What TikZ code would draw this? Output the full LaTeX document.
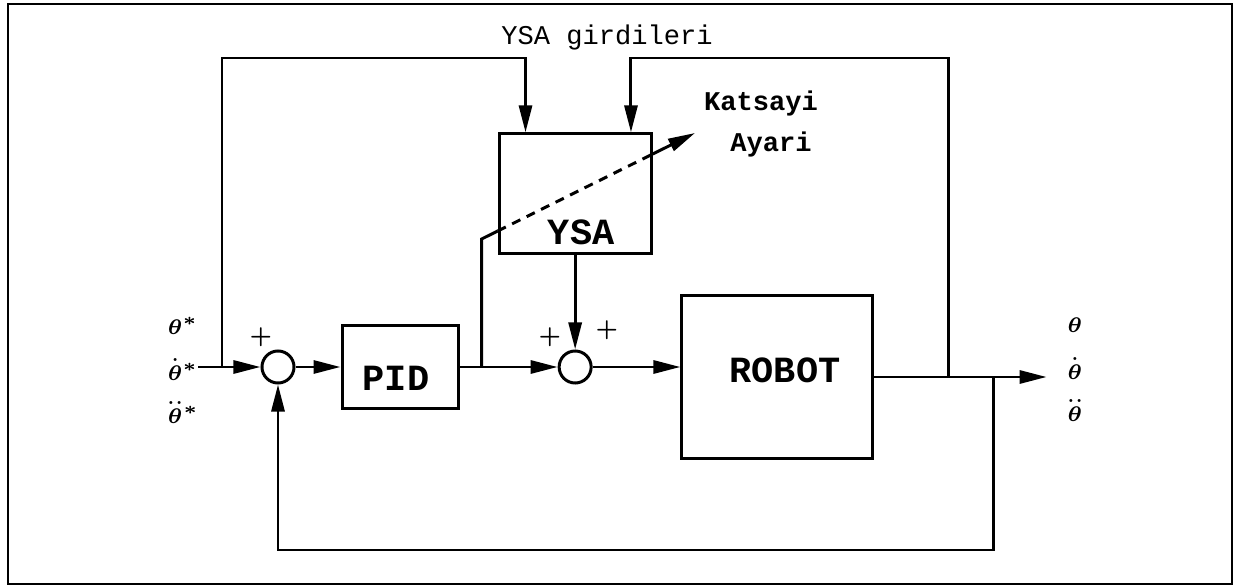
\documentclass[tikz,border=0pt]{standalone}
\usepackage{fontspec}
\setmonofont{Liberation Mono}
\usepackage{amsmath}
\usetikzlibrary{arrows.meta, positioning, calc}

\begin{document}
\begin{tikzpicture}[
    x=0.01cm, y=-0.01cm, >={Triangle[length=0.27cm,width=0.13cm]},
    line width=0.85pt,
    block/.style={draw, minimum height=0.82cm, inner sep=0pt},
    blocktxt/.style={font=\fontsize{10.5}{12}\selectfont\ttfamily\bfseries,
                     inner sep=0pt},
    sumnode/.style={draw, circle, minimum size=0.32cm, inner sep=0pt},
    sig/.style={font=\fontsize{6.5}{7}\selectfont\boldmath, inner sep=0pt},
    plus/.style={font=\fontsize{6}{6}\selectfont\bfseries, inner sep=0pt},
    note/.style={font=\fontsize{7.7}{9}\selectfont\ttfamily\bfseries,
                 inner sep=0pt}
  ]

  \useasboundingbox (0,0) rectangle (1239,588);
  \draw[line width=0.6pt] (8,4) rectangle (1232,584);

  % Summing junctions and blocks
  \node[sumnode] (sum1) at (278,367) {};
  \node[block, minimum width=1.16cm, right=0.45cm of sum1] (pid) {};
  \node[sumnode, right=0.98cm of pid] (sum2) {};
  \node[block, minimum width=1.52cm, minimum height=1.2cm,
        above=0.94cm of sum2] (ysa) {};
  \node[block, minimum width=1.9cm, minimum height=1.62cm]
    (robot) at (777,377) {};

  \node[blocktxt] (pidtxt) at ($(pid)+(-4,11)$) {PID};
  \node[blocktxt] (ysatxt) at ($(ysa)+(6,38)$) {YSA};
  \node[blocktxt] (robottxt) at ($(robot)+(8,-7)$) {ROBOT};

  % Texts
  \node[font=\fontsize{7.7}{9}\selectfont\ttfamily, inner sep=0pt]
    (inputs) at (607,37) {YSA girdileri};
  \node[note] (katsayi) at (761,104) {Katsayi};
  \node[note] (ayari) at (771,145) {Ayari};

  \node[plus] (plus1) at (261,337) {+};
  \node[plus] (plus2) at (550,337) {+};
  \node[plus] (plus3) at (607,330) {+};

  \node[sig] (thref) at (183,326) {$\theta^{*}$};
  \node[sig] (dthref) at (183,368) {$\overset{.}{\theta}{}^{*}$};
  \node[sig] (ddthref) at (183,411) {$\overset{..}{\theta}{}^{*}$};
  \node[sig] (th) at (1075,325) {$\theta$};
  \node[sig] (dth) at (1075,367) {$\overset{.}{\theta}$};
  \node[sig] (ddth) at (1075,409) {$\overset{..}{\theta}$};

  % Branch points
  \coordinate (in) at (198,367);
  \coordinate (split1) at (222,367);
  \coordinate (top) at (0,58);
  \coordinate (bot) at (0,550);
  \coordinate (ysain1) at ($(ysa.north west)!0.18!(ysa.north east)$);
  \coordinate (ysain2) at ($(ysa.north west)!0.86!(ysa.north east)$);
  \coordinate[right=0.22cm of pid.east] (split2);
  \coordinate (kink) at ($(split2)+(0,-128)$);
  \coordinate (adjtip) at (695,133);
  \coordinate (dl) at (intersection of kink--adjtip and ysa.north west--ysa.south west);
  \coordinate (dr) at (intersection of kink--adjtip and ysa.north east--ysa.south east);
  \coordinate[right=0.75cm of robot.east] (split3);
  \coordinate[right=1.2cm of robot.east] (split4);
  \coordinate[right=1.73cm of robot.east] (out);

  \draw[->] (in) -- (sum1);
  \draw[->] (split1) |- (top -| ysain1) -- (ysain1);
  \draw[->] (sum1) -- (pid);
  \draw[->] (pid) -- (sum2);
  \draw (split2) -- (kink) -- (dl);
  \draw[dash pattern=on 2.6pt off 2pt] (dl) -- (dr);
  \draw[->] (dr) -- (adjtip);
  \draw[->] (ysa) -- (sum2);
  \draw[->] (sum2) -- (sum2 -| robot.west);
  \draw[->] (robot) -- (out);
  \draw[->] (split3) |- (top -| ysain2) -- (ysain2);
  \draw[->] (split4) |- (bot -| sum1) -- (sum1);
\end{tikzpicture}
\end{document}
